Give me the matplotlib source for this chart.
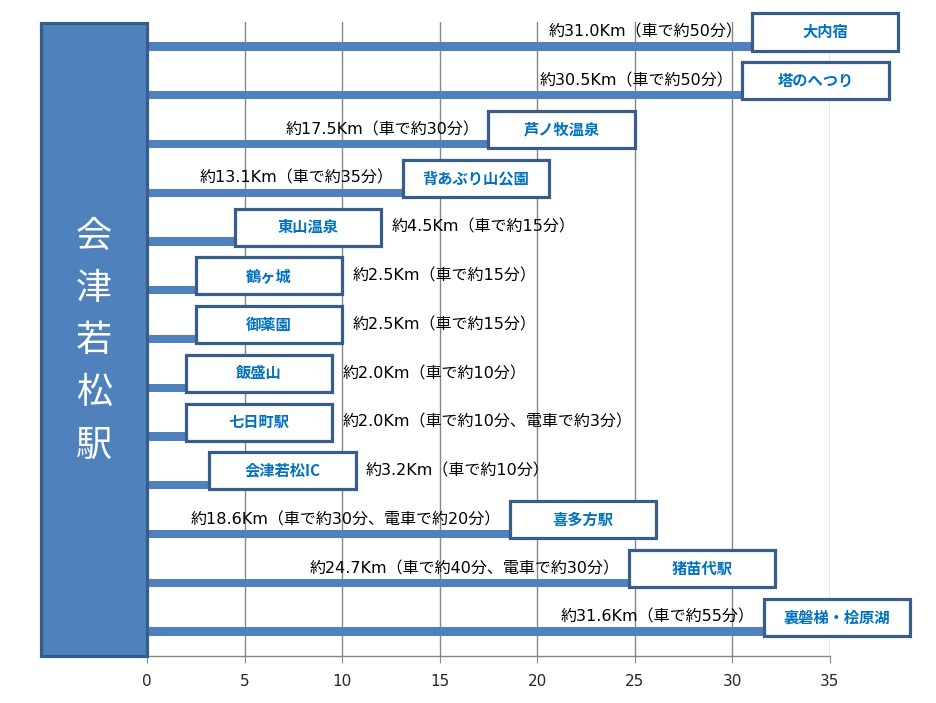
import matplotlib
matplotlib.use("Agg")
import matplotlib.pyplot as plt
from matplotlib.patches import Rectangle

plt.rcParams['font.family'] = ['Noto Sans CJK JP', 'DejaVu Sans']

places = ["大内宿", "塔のへつり", "芦ノ牧温泉", "背あぶり山公園", "東山温泉", "鶴ヶ城",
          "御薬園", "飯盛山", "七日町駅", "会津若松IC", "喜多方駅", "猪苗代駅", "裏磐梯・桧原湖"]
distances = [31.0, 30.5, 17.5, 13.1, 4.5, 2.5, 2.5, 2.0, 2.0, 3.2, 18.6, 24.7, 31.6]
notes = ["約31.0Km（車で約50分）", "約30.5Km（車で約50分）", "約17.5Km（車で約30分）",
         "約13.1Km（車で約35分）", "約4.5Km（車で約15分）", "約2.5Km（車で約15分）",
         "約2.5Km（車で約15分）", "約2.0Km（車で約10分）", "約2.0Km（車で約10分、電車で約3分）",
         "約3.2Km（車で約10分）", "約18.6Km（車で約30分、電車で約20分）",
         "約24.7Km（車で約40分、電車で約30分）", "約31.6Km（車で約55分）"]
note_left = [True, True, True, True, False, False, False, False, False, False, True, True, True]
station = "会津若松駅"
xticks = [0, 5, 10, 15, 20, 25, 30, 35]

note_font = ['DejaVu Sans', 'Noto Sans CJK JP']

W, H = 937, 703
fig = plt.figure(figsize=(W / 100, H / 100), dpi=100)
ax = fig.add_axes([147 / W, 1 - 656 / H, (830 - 147) / W, (656 - 22) / H])

bar_color = "#4F81BD"
edge_color = "#385D8A"
n = len(places)
ys = list(range(n))
bar_h = 0.17
ax.barh(ys, distances, height=bar_h, color=bar_color, zorder=2)
ax.set_xlim(0, 35)
ax.set_ylim(n - 0.5, -0.5)

box_w = 7.5
box_h = 0.76
for y, d, name, note, left in zip(ys, distances, places, notes, note_left):
    bottom = y + bar_h / 2
    rect = Rectangle((d, bottom), box_w, -box_h, facecolor="white", edgecolor=edge_color,
                     linewidth=2.3, zorder=4, clip_on=False)
    ax.add_patch(rect)
    cy = bottom - box_h / 2
    ax.text(d + box_w / 2, cy, name, ha="center", va="center", fontsize=11,
            fontweight="bold", color="#0070C0", zorder=5, clip_on=False)
    if left:
        ax.annotate(note, xy=(d, cy), xytext=(-9, 0), textcoords="offset pixels",
                    ha="right", va="center", fontsize=11.5, color="black", zorder=5,
                    family=note_font, annotation_clip=False)
    else:
        ax.annotate(note, xy=(d + box_w, cy), xytext=(10, 0), textcoords="offset pixels",
                    ha="left", va="center", fontsize=11.5, color="black", zorder=5,
                    family=note_font, annotation_clip=False)

# left station box
trans = ax.transAxes
lw_px = 106 / (830 - 147)
ax.add_patch(Rectangle((-lw_px, 0), lw_px, 1 - 1 / 634, transform=trans, facecolor=bar_color,
                       edgecolor=edge_color, linewidth=2.3, zorder=6, clip_on=False))
ax.text(-lw_px / 2, 1 - (341 - 22) / 634, "\n".join(station), transform=trans, ha="center",
        va="center", fontsize=26, color="white", linespacing=1.58, zorder=7)

ax.set_xticks(xticks)
ax.set_yticks([])
ax.grid(axis="x", color="#868686", linewidth=1.0, zorder=1)
for s in ["top", "right", "left"]:
    ax.spines[s].set_visible(False)
ax.spines["bottom"].set_color("#868686")
ax.spines["bottom"].set_linewidth(1.0)
ax.tick_params(axis="x", length=5, color="#868686", labelsize=11, labelcolor="#262626", pad=8)
for lab in ax.get_xticklabels():
    lab.set_family('DejaVu Sans')
ax.set_axisbelow(True)

fig.savefig("out.png", dpi=100)
